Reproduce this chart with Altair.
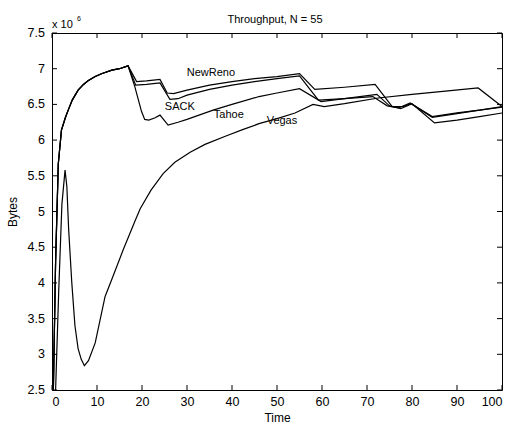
import altair as alt
import pandas as pd

# ---- data (bytes in units of 10^6) ----
# shared slow-start rise of NewReno, SACK and Tahoe
common_x = [0.3, 0.8, 1.4, 2.1, 3.0, 3.6, 4.5, 5.8, 7.0, 8.0, 9.6, 11.0, 13.3, 15.0, 16.9]
common_y = [2.5, 4.3, 5.67, 6.14, 6.32, 6.42, 6.56, 6.70, 6.78, 6.83, 6.89, 6.93, 6.98, 7.00, 7.04]

newreno_x = [18.8, 21.0, 24.0, 25.6, 27.0, 30.0, 35.0, 40.0, 45.0, 50.0, 55.0, 58.4, 65.0, 71.8, 75.6, 78.0, 79.8, 84.5, 90.0, 95.0, 100.0]
newreno_y = [6.82, 6.83, 6.85, 6.66, 6.65, 6.70, 6.77, 6.82, 6.86, 6.89, 6.93, 6.71, 6.74, 6.78, 6.47, 6.47, 6.51, 6.33, 6.38, 6.42, 6.47]

sack_x = [18.6, 21.0, 24.0, 26.2, 28.0, 30.0, 35.0, 40.0, 45.0, 50.0, 55.0, 59.2, 65.0, 71.3, 74.5, 77.0, 79.6, 84.5, 90.0, 95.0, 100.0]
sack_y = [6.77, 6.78, 6.80, 6.57, 6.58, 6.63, 6.71, 6.77, 6.82, 6.86, 6.90, 6.56, 6.58, 6.61, 6.48, 6.45, 6.52, 6.32, 6.37, 6.42, 6.46]

tahoe_x = [18.4, 19.9, 20.6, 21.5, 22.8, 24.0, 25.8, 28.0, 30.0, 35.8, 40.0, 46.0, 50.0, 55.0, 59.8, 65.0, 72.2, 75.0, 77.5, 80.0, 85.0, 90.0, 95.0, 100.0]
tahoe_y = [6.75, 6.40, 6.29, 6.28, 6.31, 6.35, 6.21, 6.25, 6.29, 6.42, 6.50, 6.61, 6.66, 6.72, 6.54, 6.58, 6.64, 6.48, 6.44, 6.51, 6.24, 6.28, 6.33, 6.38]

vegas_x = [0.8, 1.5, 2.2, 2.9, 3.3, 3.7, 4.4, 5.1, 5.8, 6.5, 7.2, 8.1, 9.6, 11.8, 13.3, 15.8, 18.4, 19.6, 22.0, 24.7, 27.3, 30.7, 34.0, 38.8, 42.5, 46.0, 50.0, 54.0, 58.0, 60.5, 65.0, 72.5, 80.0, 88.0, 94.7, 100.0]
vegas_y = [2.5, 3.9, 5.1, 5.58, 5.35, 4.75, 4.0, 3.40, 3.08, 2.93, 2.84, 2.91, 3.16, 3.81, 4.05, 4.46, 4.86, 5.04, 5.30, 5.53, 5.69, 5.83, 5.94, 6.06, 6.15, 6.23, 6.30, 6.38, 6.50, 6.47, 6.51, 6.59, 6.64, 6.69, 6.73, 6.47]

label_names = ["NewReno", "SACK", "Tahoe", "Vegas"]
label_x = [35.3, 28.4, 39.3, 51.1]
label_y = [6.94, 6.46, 6.35, 6.27]

x_ticks = [0, 10, 20, 30, 40, 50, 60, 70, 80, 90, 100]
y_ticks = [2.5, 3.0, 3.5, 4.0, 4.5, 5.0, 5.5, 6.0, 6.5, 7.0, 7.5]
y_tick_labels = ["2.5", "3", "3.5", "4", "4.5", "5", "5.5", "6", "6.5", "7", "7.5"]

title_text = "Throughput, N = 55"
exp_base = "x 10"
exp_power = "6"

# ---- build table ----
series = [
    ("NewReno", common_x + newreno_x, common_y + newreno_y),
    ("SACK", common_x + sack_x, common_y + sack_y),
    ("Tahoe", common_x + tahoe_x, common_y + tahoe_y),
    ("Vegas", vegas_x, vegas_y),
]
rows = []
for name, xs_, ys_ in series:
    for i, (a, b) in enumerate(zip(xs_, ys_)):
        rows.append({"series": name, "i": i, "time": a, "bytes": b})
df = pd.DataFrame(rows)

labels_df = pd.DataFrame({"name": label_names, "time": label_x, "bytes": label_y})
xt_df = pd.DataFrame({"time": x_ticks})
yt_df = pd.DataFrame({"bytes": y_ticks, "lab": y_tick_labels})

W, H = 450, 357
FONT = "Liberation Sans"
TICK = 5

x_scale = alt.Scale(domain=[0, 100], nice=False)
y_scale = alt.Scale(domain=[2.5, 7.5], nice=False, zero=False)

x_enc = alt.X("time:Q", scale=x_scale,
              axis=alt.Axis(values=x_ticks, title="Time", labelPadding=5, labelOverlap=False,
                            titleY=31, titleBaseline="alphabetic"))
y_enc = alt.Y("bytes:Q", scale=y_scale,
              axis=alt.Axis(values=y_ticks, title="Bytes", labels=False,
                            titleX=-40, titleY=H / 2, titleBaseline="middle"))

lines = alt.Chart(df).mark_line(color="black", strokeWidth=1.2).encode(
    x=x_enc, y=y_enc, detail="series:N", order="i:Q"
)

xs = alt.X("time:Q", scale=x_scale)
ys = alt.Y("bytes:Q", scale=y_scale)

labels = alt.Chart(labels_df).mark_text(font=FONT, fontSize=11, color="black",
                                        align="center", baseline="middle").encode(
    x=xs, y=ys, text="name:N"
)

y_labels = alt.Chart(yt_df).mark_text(font=FONT, fontSize=12.5, color="black",
                                      align="right", baseline="middle").encode(
    y=ys, x=alt.value(-7), text="lab:N"
)

bottom_ticks = alt.Chart(xt_df).mark_rule(color="black").encode(
    x=xs, y=alt.value(H), y2=alt.value(H - TICK))
top_ticks = alt.Chart(xt_df).mark_rule(color="black").encode(
    x=xs, y=alt.value(0), y2=alt.value(TICK))
left_ticks = alt.Chart(yt_df).mark_rule(color="black").encode(
    y=ys, x=alt.value(0), x2=alt.value(TICK))
right_ticks = alt.Chart(yt_df).mark_rule(color="black").encode(
    y=ys, x=alt.value(W), x2=alt.value(W - TICK))

title_mark = alt.Chart(pd.DataFrame({"t": [title_text]})).mark_text(
    font=FONT, fontSize=11, color="black", align="center", baseline="alphabetic").encode(
    text="t:N", x=alt.value(W / 2 - 2), y=alt.value(-10))
exp_a = alt.Chart(pd.DataFrame({"t": [exp_base]})).mark_text(
    font=FONT, fontSize=11, color="black", align="left", baseline="alphabetic").encode(
    text="t:N", x=alt.value(0), y=alt.value(-5))
exp_b = alt.Chart(pd.DataFrame({"t": [exp_power]})).mark_text(
    font=FONT, fontSize=7, color="black", align="left", baseline="alphabetic").encode(
    text="t:N", x=alt.value(25), y=alt.value(-12))

chart = alt.layer(
    lines, labels, y_labels, bottom_ticks, top_ticks, left_ticks, right_ticks,
    title_mark, exp_a, exp_b
).properties(
    width=W, height=H,
    autosize=alt.AutoSizeParams(type="none"),
    padding={"left": 52, "top": 33, "right": 11, "bottom": 33},
).configure_view(
    stroke="black", strokeWidth=1
).configure_axis(
    grid=False, ticks=False, domain=False,
    labelFont=FONT, labelFontSize=12.5, labelColor="black",
    titleFont=FONT, titleFontSize=12, titleFontWeight="normal", titleColor="black",
)

chart.save("out.html", embed_options={"renderer": "svg", "actions": False})
